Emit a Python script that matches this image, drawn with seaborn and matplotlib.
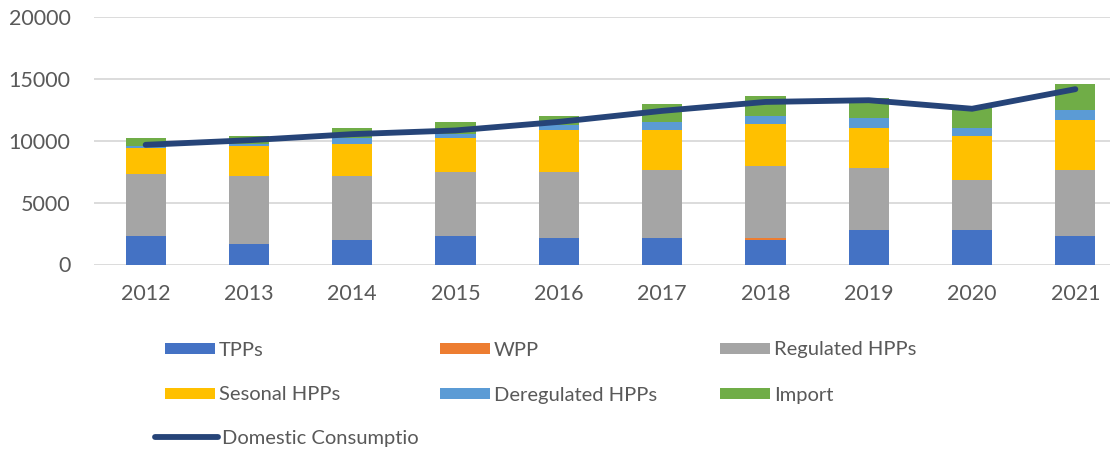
import matplotlib
matplotlib.use("Agg")
import matplotlib.pyplot as plt
import seaborn as sns
import numpy as np
import pandas as pd
from matplotlib.patches import Patch
from matplotlib.lines import Line2D

years = ["2012", "2013", "2014", "2015", "2016", "2017", "2018", "2019", "2020", "2021"]
tpps = [2300, 1650, 1980, 2300, 2140, 2140, 1980, 2780, 2780, 2320]
wpp = [0, 0, 0, 0, 0, 0, 160, 0, 0, 0]
regulated = [5000, 5480, 5150, 5160, 5320, 5480, 5800, 5000, 4030, 5320]
seasonal = [2110, 2450, 2610, 2760, 3410, 3250, 3410, 3250, 3570, 4030]
deregulated = [170, 160, 460, 300, 370, 640, 640, 800, 650, 810]
imports = [620, 620, 800, 970, 730, 1430, 1590, 1590, 1690, 2070]
consumption = [9660, 10030, 10520, 10820, 11510, 12400, 13120, 13260, 12570, 14150]

series_names = ["TPPs", "WPP", "Regulated HPPs", "Sesonal HPPs", "Deregulated HPPs", "Import"]
series_vals = [tpps, wpp, regulated, seasonal, deregulated, imports]
colors = ["#4472C4", "#ED7D31", "#A5A5A5", "#FFC000", "#5B9BD5", "#70AD47"]
line_name = "Domestic Consumptio"
line_color = "#264478"

sns.set_style("white")
plt.rcParams["font.family"] = ["Lato", "DejaVu Sans"]
text_color = "#595959"

W, H = 1110, 453
fig = plt.figure(figsize=(W / 100, H / 100), dpi=100)
ax = fig.add_axes([94 / W, (H - 264.5) / H, 1033 / W, (264.5 - 16.7) / H])

bottom = np.zeros(len(years))
for name, vals, col in zip(series_names, series_vals, colors):
    df = pd.DataFrame({"year": years, "val": vals})
    sns.barplot(data=df, x="year", y="val", color=col, width=0.39,
                bottom=bottom.copy(), ax=ax, saturation=1, linewidth=0, zorder=2)
    bottom += np.array(vals)

xpos = np.arange(len(years))
sns.lineplot(x=xpos, y=consumption, ax=ax, color=line_color, linewidth=4.2,
             solid_capstyle="round", solid_joinstyle="round", zorder=3)

ax.set_xlim(-0.5, len(years) - 0.5)
ax.set_ylim(0, 20000)
ax.set_yticks([0, 5000, 10000, 15000, 20000])
ax.yaxis.grid(True, color="#D9D9D9", linewidth=1.3, zorder=0)
ax.set_axisbelow(True)
for s in ax.spines.values():
    s.set_visible(False)
ax.tick_params(axis="y", length=0, pad=17, labelsize=15.5, labelcolor=text_color)
ax.tick_params(axis="x", length=0, pad=14, labelsize=15.5, labelcolor=text_color)
ax.set_xlabel("")
ax.set_ylabel("")

fs = 14.5
fpx = fs * 100 / 72
entries = [
    (0, 165, 350), (1, 440, 350), (2, 720, 350),
    (3, 165, 395), (4, 440, 395), (5, 720, 395),
]
for idx, x, y in entries:
    h = Patch(facecolor=colors[idx], edgecolor="none")
    fig.legend([h], [series_names[idx]], loc="center left",
               bbox_to_anchor=(x / W, (H - y) / H), frameon=False,
               fontsize=fs, labelcolor=text_color, borderpad=0, borderaxespad=0,
               handlelength=50 / fpx, handleheight=10 / fpx, handletextpad=4 / fpx)

lh = Line2D([0], [0], color=line_color, linewidth=4.2, solid_capstyle="round")
fig.legend([lh], [line_name], loc="center left",
           bbox_to_anchor=(155 / W, (H - 438) / H), frameon=False,
           fontsize=fs, labelcolor=text_color, borderpad=0, borderaxespad=0,
           handlelength=63 / fpx, handletextpad=4 / fpx)

fig.savefig("out.png", dpi=100)
